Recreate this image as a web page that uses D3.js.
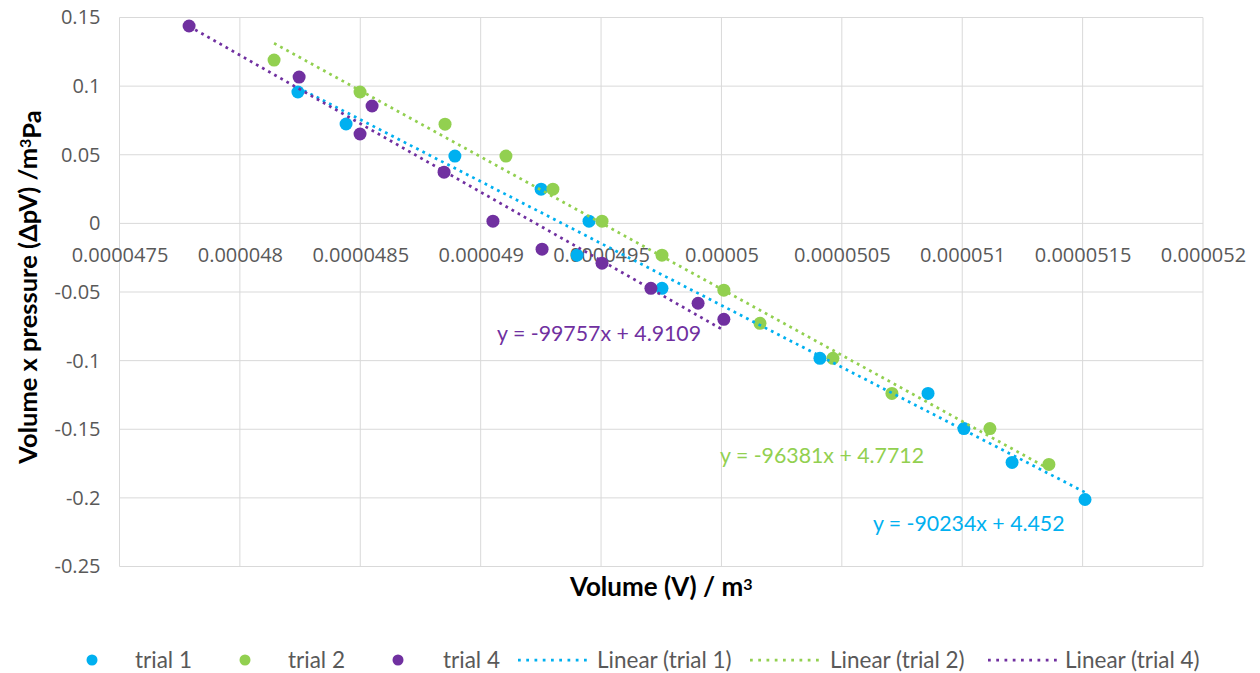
<!DOCTYPE html>
<html>
<head>
<meta charset="utf-8">
<script src="https://cdn.jsdelivr.net/npm/d3@7"></script>
<style>
  body { margin: 0; background: #fff; }
  svg { display: block; }
</style>
</head>
<body>
<svg id="chart" width="1260" height="673"></svg>
<script>
// trial 1 (blue)
var trial1X = [4.8241e-5, 4.8441e-5, 4.8893e-5, 4.9251e-5, 4.9450e-5, 4.9400e-5, 4.9753e-5, 5.0409e-5, 5.0858e-5, 5.1007e-5, 5.1207e-5, 5.1510e-5];
var trial1Y = [0.0957, 0.0724, 0.0490, 0.0249, 0.0016, -0.0232, -0.0473, -0.0983, -0.1239, -0.1495, -0.1742, -0.2012];
// trial 2 (green)
var trial2X = [4.8142e-5, 4.8499e-5, 4.8852e-5, 4.9105e-5, 4.9300e-5, 4.9504e-5, 4.9753e-5, 5.0010e-5, 5.0160e-5, 5.0463e-5, 5.0708e-5, 5.1115e-5, 5.1360e-5];
var trial2Y = [0.1190, 0.0957, 0.0723, 0.0490, 0.0249, 0.0016, -0.0232, -0.0487, -0.0728, -0.0983, -0.1239, -0.1495, -0.1756];
// trial 4 (purple)
var trial4X = [4.7789e-5, 4.8246e-5, 4.8549e-5, 4.8499e-5, 4.8848e-5, 4.9051e-5, 4.9255e-5, 4.9504e-5, 4.9707e-5, 4.9903e-5, 5.0010e-5];
var trial4Y = [0.1438, 0.1066, 0.0855, 0.0651, 0.0373, 0.0016, -0.0188, -0.0290, -0.0473, -0.0582, -0.0699];

var seriesNames = ["trial 1", "trial 2", "trial 4"];
var slopes = [-90234, -96381, -99757];
var intercepts = [4.452, 4.7712, 4.9109];
var equations = ["y = -90234x + 4.452", "y = -96381x + 4.7712", "y = -99757x + 4.9109"];

var xTicks = [4.75e-5, 4.8e-5, 4.85e-5, 4.9e-5, 4.95e-5, 5.0e-5, 5.05e-5, 5.1e-5, 5.15e-5, 5.2e-5];
var xTickLabels = ["0.0000475", "0.000048", "0.0000485", "0.000049", "0.0000495", "0.00005", "0.0000505", "0.000051", "0.0000515", "0.000052"];
var yTicks = [0.15, 0.1, 0.05, 0, -0.05, -0.1, -0.15, -0.2, -0.25];
var yTickLabels = ["0.15", "0.1", "0.05", "0", "-0.05", "-0.1", "-0.15", "-0.2", "-0.25"];

var colors = ["#00b0f0", "#92d050", "#7030a0"];
var series = [
  {name: seriesNames[0], xs: trial1X, ys: trial1Y},
  {name: seriesNames[1], xs: trial2X, ys: trial2Y},
  {name: seriesNames[2], xs: trial4X, ys: trial4Y}
];

var svg = d3.select("#chart"),
    margin = {top: 17.5, right: 57, bottom: 106.5, left: 119.5},
    width = 1260 - margin.left - margin.right,
    height = 673 - margin.top - margin.bottom,
    g = svg.append("g").attr("transform", "translate(" + margin.left + "," + margin.top + ")");

var x = d3.scaleLinear().domain([4.75e-5, 5.2e-5]).range([0, width]);
var y = d3.scaleLinear().domain([-0.25, 0.15]).range([height, 0]);

var tickFont = "'Open Sans', sans-serif";
var labelFont = "Lato, 'Open Sans', sans-serif";
var textColor = "#595959";

// grid
g.append("g")
  .selectAll("line")
  .data(xTicks)
  .enter().append("line")
    .attr("x1", function(d) { return x(d); })
    .attr("x2", function(d) { return x(d); })
    .attr("y1", 0)
    .attr("y2", height)
    .attr("stroke", "#d9d9d9")
    .attr("stroke-width", 1);

g.append("g")
  .selectAll("line")
  .data(yTicks)
  .enter().append("line")
    .attr("x1", 0)
    .attr("x2", width)
    .attr("y1", function(d) { return y(d); })
    .attr("y2", function(d) { return y(d); })
    .attr("stroke", "#d9d9d9")
    .attr("stroke-width", 1);

// y axis labels
g.append("g")
    .call(d3.axisLeft(y).tickValues(yTicks).tickSize(0).tickPadding(19)
      .tickFormat(function(d, i) { return yTickLabels[i]; }))
    .call(function(a) { a.select(".domain").remove(); })
    .selectAll("text")
      .style("font-family", tickFont)
      .style("font-size", "20px")
      .attr("fill", textColor);

// x axis labels sit along the zero line
g.append("g")
    .attr("transform", "translate(0," + y(0) + ")")
    .call(d3.axisBottom(x).tickValues(xTicks).tickSize(0).tickPadding(24)
      .tickFormat(function(d, i) { return xTickLabels[i]; }))
    .call(function(a) { a.select(".domain").remove(); })
    .selectAll("text")
      .style("font-family", tickFont)
      .style("font-size", "20px")
      .attr("fill", textColor);

// markers
series.forEach(function(s, i) {
  g.append("g")
    .selectAll("circle")
    .data(s.xs.map(function(v, j) { return [v, s.ys[j]]; }))
    .enter().append("circle")
      .attr("cx", function(d) { return x(d[0]); })
      .attr("cy", function(d) { return y(d[1]); })
      .attr("r", 6.5)
      .attr("fill", colors[i]);
});

// trendlines
var line = d3.line()
    .x(function(d) { return x(d[0]); })
    .y(function(d) { return y(d[1]); });

series.forEach(function(s, i) {
  var ext = d3.extent(s.xs);
  var pts = ext.map(function(v) { return [v, slopes[i] * v + intercepts[i]]; });
  g.append("path")
    .attr("d", line(pts))
    .attr("fill", "none")
    .attr("stroke", colors[i])
    .attr("stroke-width", 2.75)
    .attr("stroke-dasharray", "2.75 4.25");
});

// equation labels (anchored in data units)
var eqAnchor = [[5.0629e-5, -0.2187], [4.9994e-5, -0.169], [4.9068e-5, -0.0801]];
equations.forEach(function(t, i) {
  g.append("text")
    .attr("x", x(eqAnchor[i][0]))
    .attr("y", y(eqAnchor[i][1]))
    .attr("dy", "0.35em")
    .style("font-family", labelFont)
    .style("font-size", "21.3px")
    .attr("fill", colors[i])
    .text(t);
});

// axis titles
svg.append("text")
    .attr("x", margin.left + width / 2)
    .attr("y", 587)
    .attr("dy", "0.35em")
    .attr("text-anchor", "middle")
    .style("font-family", labelFont)
    .style("font-size", "26px")
    .style("font-weight", "bold")
    .attr("fill", "#000")
    .html("Volume (V) / m<tspan dy='-0.4em' font-size='16px'>3</tspan>");

var yTitle = svg.append("text")
    .attr("transform", "translate(28," + (margin.top + height / 2 - 5) + ") rotate(-90)")
    .attr("dy", "0.35em")
    .attr("text-anchor", "middle")
    .style("font-family", labelFont)
    .style("font-size", "25.5px")
    .style("font-weight", "bold")
    .attr("fill", "#000");
yTitle.append("tspan").text("Volume x pressure (\u0394pV) /m");
yTitle.append("tspan").attr("dy", "-0.4em").attr("font-size", "16px").text("3");
yTitle.append("tspan").attr("dy", "0.4em").text("Pa");

// legend
var legendY = 660;
var legendItems = [
  {label: "trial 1", type: "dot", c: 0, sx: 92, tx: 135},
  {label: "trial 2", type: "dot", c: 1, sx: 245, tx: 288},
  {label: "trial 4", type: "dot", c: 2, sx: 398, tx: 443},
  {label: "Linear (trial 1)", type: "line", c: 0, sx: 518, tx: 597},
  {label: "Linear (trial 2)", type: "line", c: 1, sx: 750, tx: 830},
  {label: "Linear (trial 4)", type: "line", c: 2, sx: 988, tx: 1065}
];

var legend = svg.selectAll(".legend")
  .data(legendItems)
  .enter().append("g")
    .attr("class", "legend");

legend.filter(function(d) { return d.type === "dot"; })
  .append("circle")
    .attr("cx", function(d) { return d.sx; })
    .attr("cy", legendY)
    .attr("r", 5.5)
    .attr("fill", function(d) { return colors[d.c]; });

legend.filter(function(d) { return d.type === "line"; })
  .append("line")
    .attr("x1", function(d) { return d.sx; })
    .attr("x2", function(d) { return d.sx + 70; })
    .attr("y1", legendY)
    .attr("y2", legendY)
    .attr("stroke", function(d) { return colors[d.c]; })
    .attr("stroke-width", 2.75)
    .attr("stroke-dasharray", "2.75 5.5");

legend.append("text")
    .attr("x", function(d) { return d.tx; })
    .attr("y", legendY)
    .attr("dy", "0.35em")
    .style("font-family", labelFont)
    .style("font-size", "22.5px")
    .attr("fill", textColor)
    .text(function(d) { return d.label; });
</script>
</body>
</html>
